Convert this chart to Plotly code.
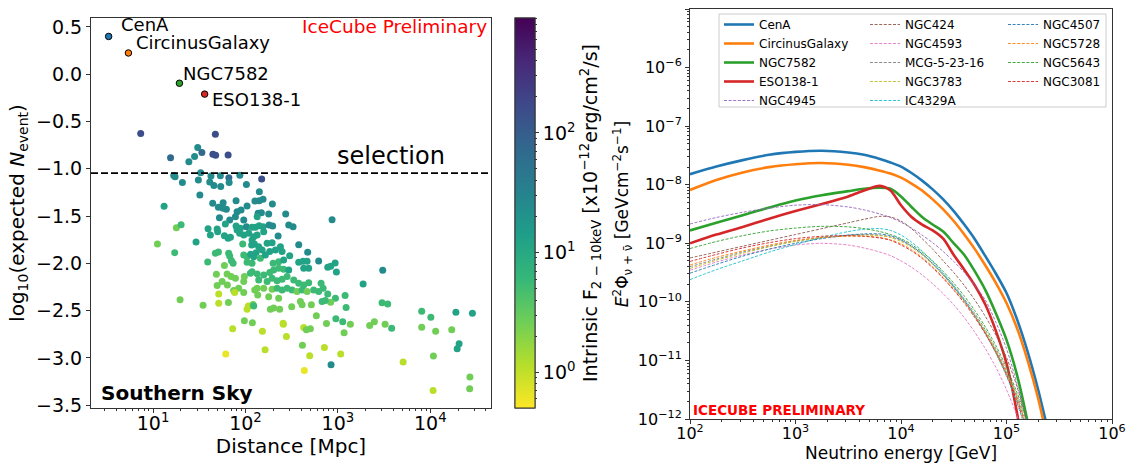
import math
import plotly.graph_objects as go

FONT = "DejaVu Sans"

# ---------------- left panel: expected events vs distance ----------------
# log10(distance / Mpc)
log_dist = [
    0.866, 1.674, 1.483, 1.528, 1.647, 1.677, 1.812, 1.189, 1.449, 1.387,
    1.515, 1.223, 1.238, 1.626, 1.728, 1.939, 1.820, 1.823, 1.317, 1.490,
    1.613, 1.658, 1.732, 2.010, 2.175, 1.506, 2.150, 1.119, 1.645, 1.758,
    1.898, 2.102, 2.148, 2.190, 1.707, 1.758, 1.793, 1.718, 1.829, 1.909,
    1.952, 2.017, 1.891, 1.782, 1.981, 1.252, 1.303, 1.595, 1.693, 1.898,
    1.945, 2.010, 2.107, 2.136, 2.291, 2.172, 2.251, 2.126, 2.435, 2.937,
    2.147, 2.190, 2.255, 2.294, 2.468, 2.515,
    1.047, 1.234, 1.465, 1.620, 1.699, 2.071, 1.772, 1.812, 1.837, 1.909,
    1.937, 1.981, 2.035, 2.089, 2.126, 1.970, 2.067, 2.096, 2.143, 1.674,
    1.707, 1.818, 1.829, 1.591, 1.866, 1.847, 1.981, 2.017, 2.056, 2.115,
    1.772, 2.017, 2.071, 1.685, 1.801, 1.844, 1.891, 1.981, 1.988, 2.053,
    2.071, 1.747, 1.693, 1.804, 1.926, 1.872, 1.710, 1.883, 1.981, 2.100,
    2.126, 2.132, 1.292, 1.541, 1.710, 1.815, 2.017, 2.031, 2.082, 1.988,
    2.075, 1.861, 1.786, 2.183, 2.212, 2.410, 2.443, 2.500, 2.616, 2.637,
    2.695, 2.630, 2.659, 2.702, 2.767, 2.854, 2.876, 2.926, 2.978, 3.030,
    3.067, 3.135, 3.078, 2.973, 2.922, 3.089, 3.273, 3.344, 3.395, 3.485,
    3.478, 3.539, 3.511, 3.582, 3.706, 3.907, 3.907, 4.006, 4.034, 4.030,
    4.058, 4.232, 4.277, 4.312, 4.291, 4.429, 4.426, 4.456, 2.970, 2.922,
    2.984, 3.052,
    2.197, 2.071, 2.353, 2.234, 2.288, 2.576, 2.180, 2.262, 2.324, 2.378,
    2.396, 2.673, 2.478, 2.089, 2.161, 2.215, 2.299, 2.359, 2.413, 2.576,
    2.623, 2.667, 2.792, 2.890, 2.126, 2.197, 2.262, 2.305, 2.359, 2.413,
    2.468, 2.630, 2.684, 2.143, 2.234, 2.288, 2.342, 2.396, 2.450, 2.522,
    2.576, 2.630, 2.684, 2.818, 2.840, 2.197, 2.288, 2.342, 2.396, 2.450,
    2.504, 2.558, 2.613, 2.667, 2.738, 2.792, 2.890, 2.251, 2.359, 2.829,
    2.865, 2.089, 2.269, 2.305, 2.370, 2.594, 2.613, 2.713, 2.407,
]

# log10(expected number of events)
log_nevent = [
    -0.626, -0.634, -0.774, -0.827, -0.845, -0.857, -0.855, -0.884, -0.869, -0.926,
    -1.042, -1.070, -1.084, -1.077, -1.074, -1.067, -1.095, -1.146, -1.144, -1.119,
    -1.140, -1.177, -1.188, -1.165, -1.109, -1.276, -1.243, -1.397, -1.365, -1.359,
    -1.338, -1.341, -1.338, -1.323, -1.408, -1.418, -1.429, -1.517, -1.542, -1.454,
    -1.436, -1.394, -1.507, -1.584, -1.542, -1.623, -1.591, -1.634, -1.637, -1.605,
    -1.629, -1.612, -1.619, -1.471, -1.373, -1.465, -1.478, -1.507, -1.478, -1.539,
    -1.602, -1.612, -1.594, -1.605, -1.594, -1.612,
    -1.795, -1.887, -1.774, -1.700, -1.665, -1.619, -1.707, -1.735, -1.724, -1.647,
    -1.682, -1.700, -1.682, -1.718, -1.700, -1.795, -1.806, -1.795, -1.824, -1.893,
    -1.880, -1.893, -1.922, -1.985, -1.999, -1.971, -1.911, -1.929, -1.904, -1.887,
    -2.024, -1.988, -1.999, -2.115, -2.112, -2.140, -2.157, -2.193, -2.140, -2.105,
    -2.088, -2.193, -2.235, -2.228, -2.263, -2.288, -2.323, -2.309, -2.309, -2.281,
    -2.263, -2.334, -2.386, -2.442, -2.421, -2.415, -2.485, -2.450, -2.436, -2.608,
    -2.629, -2.693, -2.960, -2.717, -2.914, -2.643, -2.774, -2.460, -2.865, -3.133,
    -2.978, -2.679, -2.703, -2.693, -2.555, -2.890, -2.637, -3.073, -2.587, -2.960,
    -2.735, -2.643, -2.341, -2.369, -2.411, -2.468, -2.218, -2.658, -2.619, -2.073,
    -2.418, -2.429, -2.643, -2.687, -3.044, -2.508, -2.675, -2.569, -2.980, -3.344,
    -2.717, -2.703, -2.516, -2.851, -2.904, -3.203, -3.326, -2.529, -1.996, -2.031,
    -2.091, -2.619,
    -1.665, -1.753, -1.711, -1.788, -1.781, -1.803, -1.858, -1.876, -1.858, -1.824,
    -1.876, -1.883, -1.919, -1.929, -1.946, -1.911, -1.999, -1.982, -1.964, -1.988,
    -1.978, -1.978, -1.975, -2.041, -2.112, -2.122, -2.098, -2.070, -2.052, -2.062,
    -2.070, -2.052, -2.052, -2.175, -2.193, -2.157, -2.183, -2.168, -2.140, -2.175,
    -2.210, -2.228, -2.204, -2.210, -2.263, -2.263, -2.273, -2.263, -2.281, -2.263,
    -2.281, -2.299, -2.281, -2.299, -2.281, -2.299, -2.323, -2.352, -2.369, -2.404,
    -2.394, -2.450, -2.485, -2.471, -2.485, -2.404, -2.439, -2.439, -2.633,
]

# intrinsic 2-10 keV flux [1e-12 erg/cm^2/s]
flux_2_10 = [
    150, 150, 25, 70, 150, 150, 150, 70, 25, 25,
    25, 25, 25, 25, 25, 25, 70, 25, 25, 25,
    25, 25, 25, 25, 150, 25, 25, 12, 25, 25,
    25, 25, 25, 25, 25, 25, 25, 25, 25, 25,
    25, 25, 25, 12, 25, 2.6, 5.5, 12, 12, 12,
    12, 25, 12, 25, 25, 25, 25, 12, 25, 25,
    12, 12, 25, 25, 25, 25,
    2.6, 5.5, 12, 12, 12, 12, 12, 12, 12, 12,
    12, 12, 12, 12, 12, 5.5, 12, 12, 12, 5.5,
    5.5, 5.5, 5.5, 5.5, 5.5, 5.5, 5.5, 5.5, 12, 12,
    2.6, 5.5, 5.5, 2.6, 2.6, 2.6, 2.6, 2.6, 2.6, 5.5,
    5.5, 2.6, 2.6, 2.6, 2.6, 2.6, 1.1, 1.1, 2.6, 2.6,
    2.6, 2.6, 2.6, 2.6, 1.1, 2.6, 1.1, 1.1, 2.6, 2.6,
    2.6, 1.1, 0.63, 1.1, 1.1, 1.1, 1.1, 2.6, 2.6, 0.63,
    1.1, 1.1, 2.6, 2.6, 2.6, 1.1, 2.6, 25, 5.5, 1.1,
    2.6, 2.6, 5.5, 5.5, 2.6, 5.5, 12, 2.6, 2.6, 25,
    5.5, 5.5, 2.6, 5.5, 1.1, 5.5, 2.6, 5.5, 2.6, 1.1,
    2.6, 2.6, 12, 12, 12, 2.6, 2.6, 12, 12, 12,
    12, 5.5,
    12, 12, 25, 12, 12, 25, 12, 12, 12, 12,
    12, 25, 12, 12, 5.5, 12, 5.5, 5.5, 12, 12,
    12, 12, 25, 12, 5.5, 5.5, 5.5, 5.5, 5.5, 5.5,
    12, 12, 12, 5.5, 5.5, 5.5, 5.5, 5.5, 5.5, 5.5,
    5.5, 5.5, 5.5, 5.5, 5.5, 2.6, 2.6, 5.5, 5.5, 5.5,
    5.5, 2.6, 5.5, 2.6, 5.5, 5.5, 5.5, 2.6, 2.6, 5.5,
    5.5, 5.5, 2.6, 2.6, 2.6, 2.6, 2.6, 2.6, 1.1,
]

top_names = ["CenA", "CircinusGalaxy", "NGC7582", "ESO138-1"]
top_log_dist = [0.519, 0.733, 1.285, 1.558]
top_log_nevent = [0.400, 0.225, -0.095, -0.210]
top_colors = ["#1f77b4", "#ff7f0e", "#2ca02c", "#d62728"]

selection_cut = -1.045
flux_log_range = [-0.30, 2.96]

# ---------------- right panel: neutrino spectra ----------------
log_energy = [2.0, 2.25, 2.5, 2.75, 3.0, 3.25, 3.5, 3.65, 3.8, 3.9, 4.0, 4.1, 4.2,
              4.3, 4.4, 4.5, 4.6, 4.7, 4.8, 4.9, 5.0, 5.1, 5.2, 5.3, 5.4]

spec_cena = [-7.82, -7.69, -7.58, -7.49, -7.44, -7.42, -7.45, -7.49, -7.56, -7.62, -7.69, -7.80,
             -7.93, -8.08, -8.25, -8.45, -8.68, -8.93, -9.22, -9.52, -9.85, -10.30, -10.85, -11.50, -12.25]
spec_circinus = [-8.09, -7.92, -7.79, -7.70, -7.65, -7.63, -7.66, -7.70, -7.76, -7.81, -7.88, -7.98,
                 -8.10, -8.25, -8.42, -8.62, -8.85, -9.10, -9.38, -9.68, -10.02, -10.45, -11.00, -11.65, -12.45]
spec_ngc7582 = [-8.78, -8.65, -8.52, -8.39, -8.27, -8.18, -8.11, -8.07, -8.05, -8.07, -8.20, -8.38,
                -8.55, -8.68, -8.80, -9.00, -9.20, -9.48, -9.80, -10.20, -10.65, -11.25, -12.05, -13.0, -14.0]
spec_eso138 = [-9.00, -8.85, -8.72, -8.58, -8.45, -8.33, -8.20, -8.10, -8.02, -8.10, -8.35, -8.55,
               -8.68, -8.78, -8.92, -9.20, -9.45, -9.72, -10.05, -10.50, -11.05, -11.90, -13.0, -14.0, -15.0]
spec_ngc4945 = [-8.67, -8.56, -8.47, -8.40, -8.35, -8.34, -8.38, -8.43, -8.50, -8.56, -8.64, -8.74,
                -8.86, -8.99, -9.14, -9.31, -9.50, -9.72, -9.97, -10.35, -10.80, -11.40, -12.10, -13.0, -14.0]
spec_ngc424 = [-9.25, -9.15, -9.05, -8.95, -8.85, -8.75, -8.65, -8.59, -8.54, -8.55, -8.62, -8.75,
               -8.92, -9.10, -9.30, -9.50, -9.72, -9.97, -10.25, -10.57, -10.95, -11.45, -12.10, -13.0, -14.0]
spec_ngc4593 = [-9.46, -9.32, -9.20, -9.10, -9.03, -9.00, -9.03, -9.08, -9.15, -9.21, -9.30, -9.41,
                -9.54, -9.69, -9.86, -10.05, -10.27, -10.52, -10.80, -11.12, -11.50, -11.95, -12.50, -13.2, -14.0]
spec_mcg5 = [-9.40, -9.27, -9.15, -9.05, -8.96, -8.90, -8.86, -8.85, -8.86, -8.89, -8.95, -9.05,
             -9.18, -9.34, -9.52, -9.72, -9.95, -10.20, -10.48, -10.80, -11.17, -11.60, -12.10, -12.8, -13.6]
spec_ngc3783 = [-9.43, -9.29, -9.17, -9.06, -8.97, -8.91, -8.87, -8.86, -8.87, -8.90, -8.97, -9.07,
                -9.20, -9.36, -9.54, -9.75, -9.98, -10.23, -10.51, -10.83, -11.20, -11.63, -12.15, -12.8, -13.6]
spec_ic4329a = [-9.62, -9.45, -9.30, -9.15, -9.02, -8.90, -8.80, -8.76, -8.75, -8.78, -8.86, -8.98,
                -9.13, -9.31, -9.51, -9.73, -9.97, -10.24, -10.54, -10.88, -11.27, -11.73, -12.30, -13.0, -13.8]
spec_ngc4507 = [-9.51, -9.36, -9.22, -9.10, -9.00, -8.92, -8.86, -8.84, -8.84, -8.87, -8.94, -9.05,
                -9.18, -9.35, -9.54, -9.75, -9.98, -10.24, -10.53, -10.85, -11.22, -11.65, -12.20, -12.9, -13.7]
spec_ngc5728 = [-9.37, -9.24, -9.13, -9.03, -8.95, -8.90, -8.88, -8.88, -8.90, -8.94, -9.01, -9.11,
                -9.24, -9.40, -9.58, -9.78, -10.00, -10.25, -10.53, -10.85, -11.22, -11.65, -12.20, -12.9, -13.7]
spec_ngc5643 = [-9.09, -8.97, -8.87, -8.79, -8.74, -8.71, -8.72, -8.75, -8.80, -8.85, -8.92, -9.02,
                -9.15, -9.30, -9.48, -9.68, -9.90, -10.15, -10.43, -10.75, -11.12, -11.55, -12.05, -12.7, -13.5]
spec_ngc3081 = [-9.31, -9.19, -9.08, -8.99, -8.92, -8.88, -8.87, -8.88, -8.91, -8.95, -9.03, -9.13,
                -9.26, -9.42, -9.60, -9.80, -10.02, -10.27, -10.55, -10.87, -11.25, -11.70, -12.25, -12.95, -13.75]

# (label, values, colour, solid?, legend column)
spectra = [
    ("CenA", spec_cena, "#1f77b4", True, "legend"),
    ("CircinusGalaxy", spec_circinus, "#ff7f0e", True, "legend"),
    ("NGC7582", spec_ngc7582, "#2ca02c", True, "legend"),
    ("ESO138-1", spec_eso138, "#d62728", True, "legend"),
    ("NGC4945", spec_ngc4945, "#9467bd", False, "legend"),
    ("NGC424", spec_ngc424, "#8c564b", False, "legend2"),
    ("NGC4593", spec_ngc4593, "#e377c2", False, "legend2"),
    ("MCG-5-23-16", spec_mcg5, "#7f7f7f", False, "legend2"),
    ("NGC3783", spec_ngc3783, "#bcbd22", False, "legend2"),
    ("IC4329A", spec_ic4329a, "#17becf", False, "legend2"),
    ("NGC4507", spec_ngc4507, "#1f77b4", False, "legend3"),
    ("NGC5728", spec_ngc5728, "#ff7f0e", False, "legend3"),
    ("NGC5643", spec_ngc5643, "#2ca02c", False, "legend3"),
    ("NGC3081", spec_ngc3081, "#d62728", False, "legend3"),
]

W, H = 1133, 466


def px_x(p):
    return p / W


def px_y(p):
    return (H - p) / H


cbar_geom = dict(
    x=px_x(515), xanchor="left", xpad=0,
    y=px_y(213), yanchor="middle", ypad=0,
    thickness=20, thicknessmode="pixels",
    len=390, lenmode="pixels",
    outlinewidth=1, outlinecolor="#333333",
    tickmode="array", ticks="outside", tickcolor="#333333",
)

# minor tick positions of the logarithmic colour scale
cbar_minor = [math.log10(k * 10.0 ** m) for m in range(-1, 3) for k in range(2, 10)
              if flux_log_range[0] < math.log10(k * 10.0 ** m) < flux_log_range[1]]

fig = go.Figure()

# minor ticks of the colour bar (drawn underneath the main one)
fig.add_trace(go.Scatter(
    x=[None], y=[None], mode="markers", xaxis="x", yaxis="y", showlegend=False,
    hoverinfo="skip",
    marker=dict(
        color=[flux_log_range[0]], colorscale="Viridis", reversescale=True,
        cmin=flux_log_range[0], cmax=flux_log_range[1], showscale=True,
        colorbar=dict(tickvals=cbar_minor, ticktext=[""] * len(cbar_minor),
                      ticklen=2, **cbar_geom),
    ),
))

# sample of sources coloured by X-ray flux
fig.add_trace(go.Scatter(
    x=[10 ** v for v in log_dist], y=log_nevent, mode="markers",
    xaxis="x", yaxis="y", showlegend=False,
    marker=dict(
        size=7, color=[math.log10(f) for f in flux_2_10],
        colorscale="Viridis", reversescale=True,
        cmin=flux_log_range[0], cmax=flux_log_range[1],
        line=dict(width=0), showscale=True,
        colorbar=dict(
            tickvals=[0, 1, 2],
            ticktext=["10<sup>0</sup>", "10<sup>1</sup>", "10<sup>2</sup>"],
            ticklen=4,
            tickfont=dict(family=FONT, size=19, color="black"),
            title=dict(
                text="Intrinsic F<sub>2 − 10keV</sub> [x10<sup>−12</sup>erg/cm<sup>2</sup>/s]",
                side="right", font=dict(family=FONT, size=19, color="black")),
            **cbar_geom,
        ),
    ),
))

# the four brightest sources
for name, ld, ln, col in zip(top_names, top_log_dist, top_log_nevent, top_colors):
    fig.add_trace(go.Scatter(
        x=[10 ** ld], y=[ln], mode="markers", xaxis="x", yaxis="y", showlegend=False,
        marker=dict(size=6.5, color=col, line=dict(width=1, color="black")),
    ))

label_shift = {"CenA": (10, 12), "CircinusGalaxy": (6, 10),
               "NGC7582": (2, 10), "ESO138-1": (5, -5)}
annotations = []
for name, ld, ln in zip(top_names, top_log_dist, top_log_nevent):
    dx, dy = label_shift[name]
    annotations.append(dict(
        x=ld, y=ln, xref="x", yref="y", text=name, showarrow=False,
        xanchor="left", yanchor="middle", xshift=dx, yshift=dy,
        font=dict(family=FONT, size=18, color="black")))

# neutrino spectra
for name, vals, col, solid, leg in spectra:
    fig.add_trace(go.Scatter(
        x=[10 ** e for e in log_energy], y=[10 ** v for v in vals],
        mode="lines", name=name, xaxis="x2", yaxis="y2", legend=leg,
        line=dict(color=col, width=2.6 if solid else 0.9,
                  dash="solid" if solid else "3px,1.6px",
                  shape="spline", smoothing=0.8),
    ))

minor_dist = [k * 10 ** m for m in range(0, 5) for k in range(2, 10)
              if 2.13 < k * 10 ** m < 45400]
minor_energy = [k * 10 ** m for m in range(2, 6) for k in range(2, 10)]
minor_flux = [k * 10.0 ** m for m in range(-12, -5) for k in range(2, 10)]

axis_common = dict(showline=True, mirror=True, linecolor="#333333", linewidth=1,
                   showgrid=False, zeroline=False, ticks="outside",
                   tickcolor="#333333", ticklen=4, automargin=False)

fig.update_layout(
    width=W, height=H,
    margin=dict(l=0, r=0, t=0, b=0, autoexpand=False),
    paper_bgcolor="white", plot_bgcolor="white",
    font=dict(family=FONT, color="black"),
    xaxis=dict(
        domain=[px_x(91), px_x(491)], anchor="y", type="log",
        range=[0.328, 4.657],
        tickmode="array", tickvals=[10, 100, 1000, 10000],
        ticktext=["10<sup>1</sup>", "10<sup>2</sup>", "10<sup>3</sup>", "10<sup>4</sup>"],
        tickfont=dict(size=19), ticklabelstandoff=-6,
        minor=dict(tickmode="array", tickvals=minor_dist, ticks="outside",
                   ticklen=2, tickcolor="#333333"),
        title=dict(text="Distance [Mpc]", font=dict(size=20), standoff=0),
        **axis_common),
    yaxis=dict(
        domain=[px_y(408), px_y(18)], anchor="x",
        range=[-3.53, 0.595],
        tickmode="array",
        tickvals=[-3.5, -3.0, -2.5, -2.0, -1.5, -1.0, -0.5, 0.0, 0.5],
        ticktext=["−3.5", "−3.0", "−2.5", "−2.0", "−1.5", "−1.0", "−0.5", "0.0", "0.5"],
        tickfont=dict(size=19),
        title=dict(text="log<sub>10</sub>(expected <i>N</i><sub>event</sub>)",
                   font=dict(size=20), standoff=6),
        **axis_common),
    xaxis2=dict(
        domain=[px_x(690), px_x(1112)], anchor="y2", type="log",
        range=[2, 6],
        tickmode="array", tickvals=[1e2, 1e3, 1e4, 1e5, 1e6],
        ticktext=["10<sup>2</sup>", "10<sup>3</sup>", "10<sup>4</sup>", "10<sup>5</sup>", "10<sup>6</sup>"],
        tickfont=dict(size=16), ticklabelstandoff=-4,
        minor=dict(tickmode="array", tickvals=minor_energy, ticks="outside",
                   ticklen=2, tickcolor="#333333"),
        title=dict(text="Neutrino energy [GeV]", font=dict(size=17), standoff=0),
        **axis_common),
    yaxis2=dict(
        domain=[px_y(419), px_y(9)], anchor="x2", type="log",
        range=[-12, -5],
        tickmode="array", tickvals=[10.0 ** k for k in range(-12, -4)],
        ticktext=["10<sup>−%d</sup>" % (-k) for k in range(-12, -4)],
        tickfont=dict(size=16),
        minor=dict(tickmode="array", tickvals=minor_flux, ticks="outside",
                   ticklen=2, tickcolor="#333333"),
        title=dict(text="<i>E</i><sup>2</sup>Φ<sub>ν + ν\u0304</sub> [GeVcm<sup>−2</sup>s<sup>−1</sup>]",
                   font=dict(size=17), standoff=4),
        **axis_common),
)

legend_common = dict(bgcolor="rgba(0,0,0,0)", borderwidth=0,
                     font=dict(family=FONT, size=12, color="black"),
                     xanchor="left", yanchor="top", orientation="v",
                     tracegroupgap=0)
fig.update_layout(
    legend=dict(x=px_x(719), y=px_y(10), **legend_common),
    legend2=dict(x=px_x(865), y=px_y(10), **legend_common),
    legend3=dict(x=px_x(1003), y=px_y(10), **legend_common),
)

shapes = [
    # selection threshold
    dict(type="line", xref="x domain", yref="y", x0=0, x1=1,
         y0=selection_cut, y1=selection_cut,
         line=dict(color="black", width=1.8, dash="7px,3px")),
    # legend frame
    dict(type="rect", xref="paper", yref="paper",
         x0=px_x(719), x1=px_x(1106), y0=px_y(107), y1=px_y(14),
         line=dict(color="#cccccc", width=1), fillcolor="rgba(255,255,255,0.8)",
         layer="above"),
]

annotations += [
    dict(xref="paper", yref="paper", x=px_x(489), y=px_y(27), text="IceCube Preliminary",
         showarrow=False, xanchor="right", yanchor="middle",
         font=dict(family=FONT, size=18.5, color="red")),
    dict(xref="paper", yref="paper", x=px_x(335), y=px_y(156), text="selection",
         showarrow=False, xanchor="left", yanchor="middle",
         font=dict(family=FONT, size=24, color="black")),
    dict(xref="paper", yref="paper", x=px_x(99), y=px_y(393), text="<b>Southern Sky</b>",
         showarrow=False, xanchor="left", yanchor="middle",
         font=dict(family=FONT, size=20, color="black")),
    dict(xref="paper", yref="paper", x=px_x(691), y=px_y(410), text="<b>ICECUBE PRELIMINARY</b>",
         showarrow=False, xanchor="left", yanchor="middle",
         font=dict(family=FONT, size=13.5, color="red")),
]

fig.update_layout(shapes=shapes, annotations=annotations)

fig.write_html("out.html")
